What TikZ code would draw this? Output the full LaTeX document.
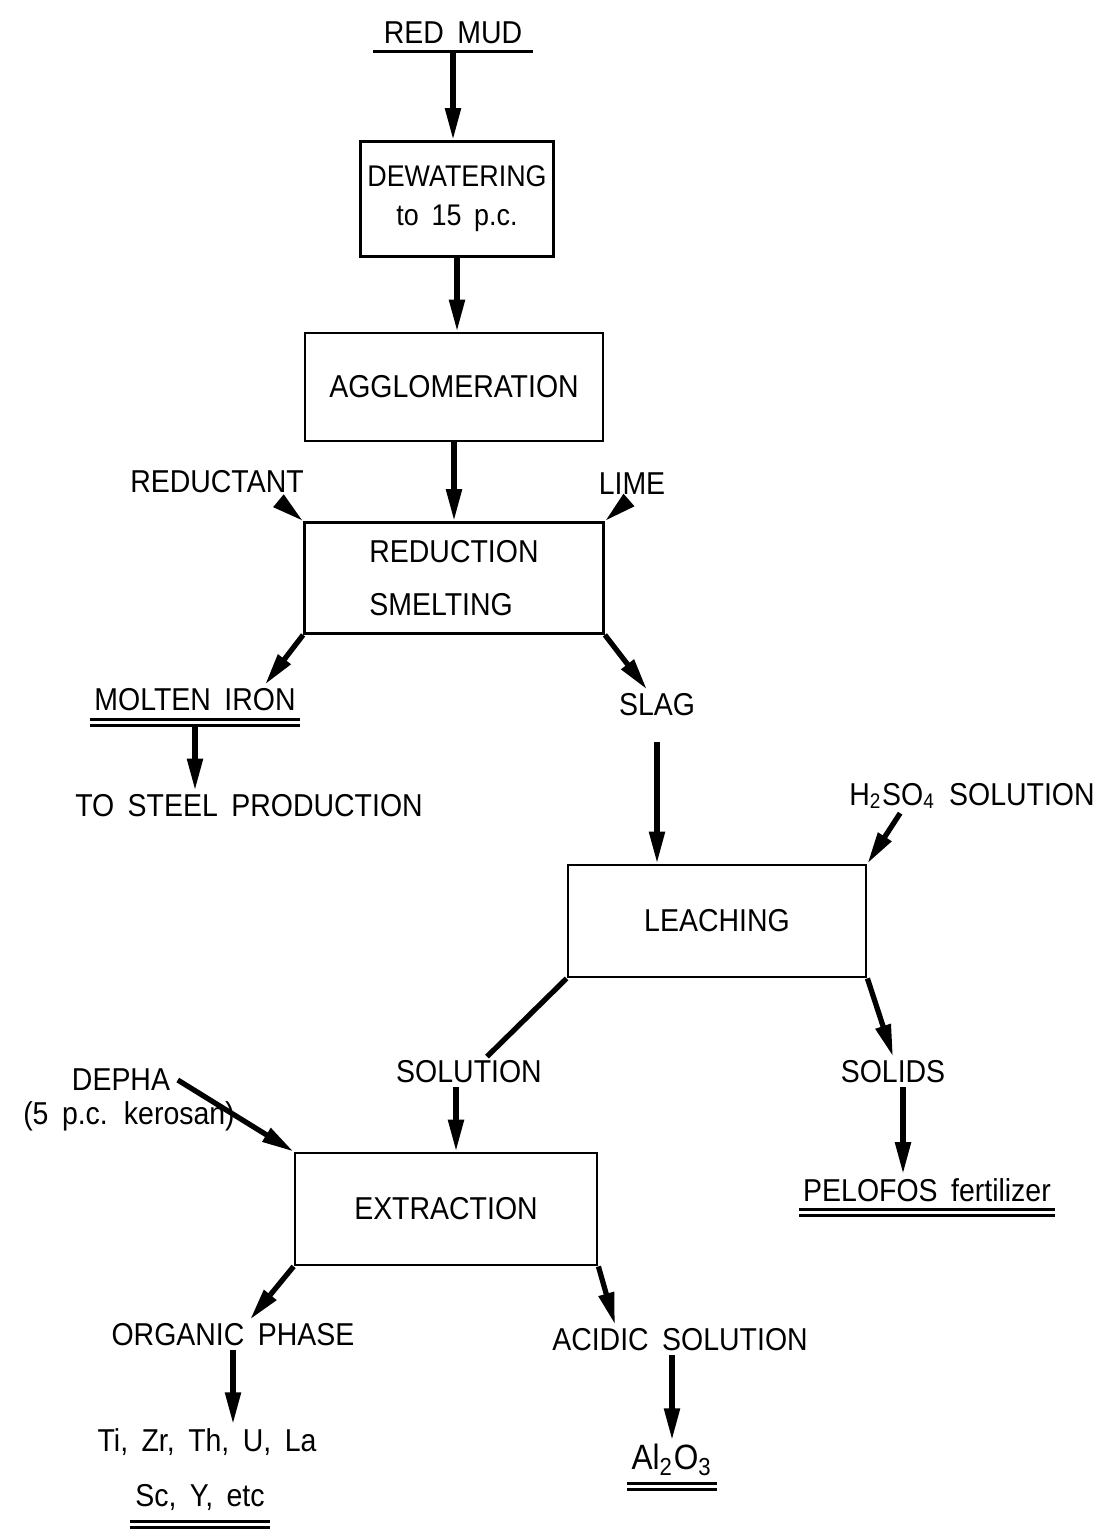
\documentclass[tikz,border=0pt]{standalone}
\usepackage{fontspec}
\setmainfont[FakeStretch=0.9, WordSpace=1.7]{Liberation Sans}
\usetikzlibrary{arrows.meta}

\begin{document}
\begin{tikzpicture}[
	x = 0.1mm, y = -0.1mm,
	every node/.style = {font=\fontsize{9pt}{12pt}\selectfont},
	box/.style = {draw, line width=0.8pt, align=center, minimum height=1.12cm},
	lbl/.style = {inner sep=1pt, align=center},
	flow/.style = {-{Triangle[length=3.2mm,width=1.5mm]}, line width=1.5pt},
	feed/.style = {line width=1.5pt},
	uline/.style = {line width=0.8pt, double distance=0.9pt},
	]

	\useasboundingbox (0,0) rectangle (1113,1529);

	% process boxes
	\node[box, minimum width=1.89cm, minimum height=1.15cm, inner xsep=2pt,
		font=\fontsize{8.5pt}{11pt}\selectfont] (dewater) at (457,199) {DEWATERING\\to 15 p.c.};
	\node[box, minimum width=2.98cm, minimum height=1.08cm] (agglo) at (454,387) {AGGLOMERATION};
	\node[box, minimum width=2.99cm, minimum height=1.11cm, align=left] (smelt) at (454,578) {REDUCTION\\[3pt]SMELTING};
	\node[box, minimum width=2.98cm] (leach) at (717,921) {LEACHING};
	\node[box, minimum width=3.02cm] (extract) at (446,1209) {EXTRACTION};

	% streams
	\node[lbl] (redmud) at (453,33) {RED MUD};
	\node[lbl] (reductant) at (217,482) {REDUCTANT};
	\node[lbl] (lime) at (632,484) {LIME};
	\node[lbl] (molten) at (195,700) {MOLTEN IRON};
	\node[lbl] (steel) at (249,806) {TO STEEL PRODUCTION};
	\node[lbl] (slag) at (657,705) {SLAG};
	\node[lbl] (acid) at (972,796) {H\textsubscript{2}SO\textsubscript{4} SOLUTION};
	\node[lbl] (solution) at (469,1072) {SOLUTION};
	\node[lbl] (solids) at (893,1072) {SOLIDS};
	\node[lbl, inner sep=0pt] (depha) at (121,1080) {DEPHA};
	\node[lbl, inner sep=0pt] (kerosan) at (129,1116) {(5 p.c. kerosan)};
	\node[lbl] (pelofos) at (927,1190) {PELOFOS fertilizer};
	\node[lbl] (organic) at (233,1335) {ORGANIC PHASE};
	\node[lbl] (acidic) at (680,1340) {ACIDIC SOLUTION};
	\node[lbl] (metals) at (207,1442) {Ti, Zr, Th, U, La};
	\node[lbl] (scy) at (200,1497) {Sc, Y, etc};
	\node[lbl, font=\fontsize{10pt}{12pt}\selectfont] (alumina) at (672,1460) {Al\textsubscript{2}O\textsubscript{3}};

	% underlines
	\draw[line width=0.8pt] ([xshift=-8mm,yshift=-1pt]redmud.south) -- ([xshift=8mm,yshift=-1pt]redmud.south);
	\draw[uline] ([yshift=-2pt]molten.south west) -- ([yshift=-2pt]molten.south east);
	\draw[uline] ([yshift=-2pt]pelofos.south west) -- ([yshift=-2pt]pelofos.south east);
	\draw[uline] ([xshift=-7mm,yshift=-3pt]scy.south) -- ([xshift=7mm,yshift=-3pt]scy.south);
	\draw[uline] ([yshift=-2pt]alumina.south west) -- ([yshift=-2pt]alumina.south east);

	% main line
	\draw[flow] ([yshift=-1pt]redmud.south) -- (redmud.south |- dewater.north);
	\draw[flow] (dewater.south) -- (dewater.south |- agglo.north);
	\draw[flow] (agglo.south) -- (agglo.south |- smelt.north);
	\draw[flow] ([xshift=-2.5mm,yshift=-2pt]reductant.south east) -- (smelt.north west);
	\draw[flow] ([xshift=-1mm,yshift=-2pt]lime.south) -- (smelt.north east);
	\draw[flow] (smelt.south west) -- ([xshift=7mm]molten.north);
	\draw[flow] (smelt.south east) -- ([xshift=-1mm]slag.north);
	\draw[flow] ([yshift=-3pt]molten.south) -- (molten.south |- steel.north);
	\draw[flow] ([yshift=-6pt]slag.south) -- (slag.south |- leach.north);
	\draw[flow] ([xshift=5.5mm]acid.south west) -- (leach.north east);
	\draw[feed] (leach.south west) -- ([xshift=1.8mm]solution.north);
	\draw[flow] (leach.south east) -- (solids.north);
	\draw[flow] ([xshift=1mm]solids.south) -- ([xshift=1mm]solids.south |- pelofos.north);
	\draw[flow] ([xshift=-1.3mm]solution.south) -- ([xshift=-1.3mm]solution.south |- extract.north);
	\draw[flow] ([xshift=2pt]depha.east) -- (extract.north west);
	\draw[flow] (extract.south west) -- ([xshift=1.7mm]organic.north);
	\draw[flow] (extract.south east) -- ([xshift=-6.5mm]acidic.north);
	\draw[flow] (organic.south) -- (organic.south |- metals.north);
	\draw[flow] ([xshift=-0.8mm]acidic.south) -- ([xshift=-0.8mm]acidic.south |- alumina.north);

\end{tikzpicture}
\end{document}
